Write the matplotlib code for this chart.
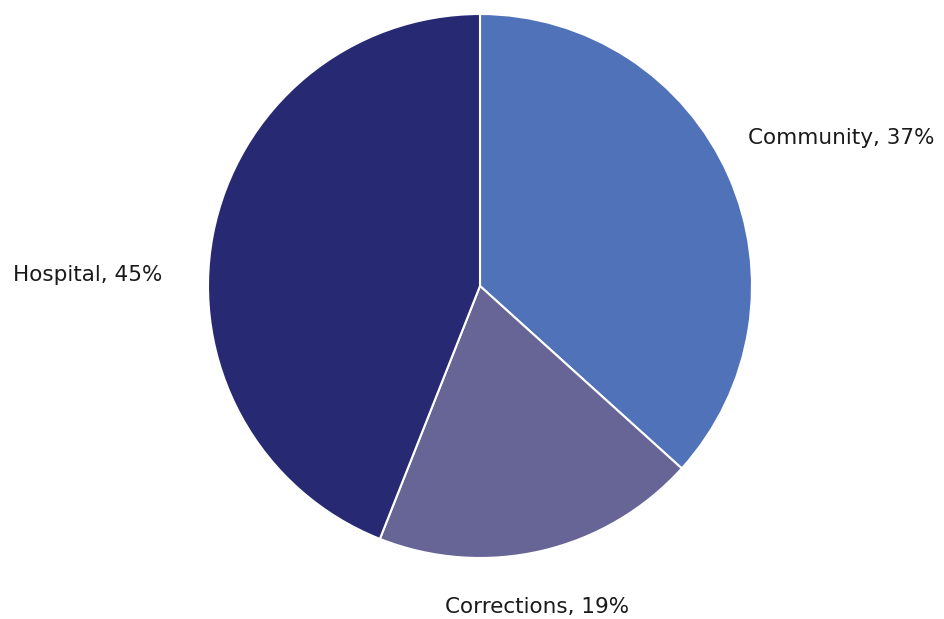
import matplotlib.pyplot as plt

# slice data
labels = ["Community", "Corrections", "Hospital"]
values = [36.7, 19.3, 44.0]
pct_labels = ["37%", "19%", "45%"]
colors = ["#5072B8", "#676595", "#282973"]

# label anchor points (in pie radius units) and alignment
label_pos = [(0.985, 0.544), (0.208, -1.18), (-1.169, 0.040)]
label_ha = ["left", "center", "right"]

fig = plt.figure(figsize=(9.44, 6.19), dpi=100)
ax = fig.add_axes([0, 0, 1, 1])

r_px = 272.0
cx, cy = 480.0, 286.0

wedges, _ = ax.pie(values, colors=colors, startangle=90, counterclock=False,
                   radius=1.0,
                   wedgeprops=dict(edgecolor="white", linewidth=1.5))

for i, name in enumerate(labels):
    x, y = label_pos[i]
    ax.text(x, y, f"{name}, {pct_labels[i]}", ha=label_ha[i], va="center",
            fontsize=15.5, color="#1a1a1a", family=["DejaVu Sans"])

ax.set_xlim(-cx / r_px, (944 - cx) / r_px)
ax.set_ylim(-(619 - cy) / r_px, cy / r_px)
ax.set_aspect("auto")
ax.axis("off")

fig.savefig("out.png", dpi=100)
